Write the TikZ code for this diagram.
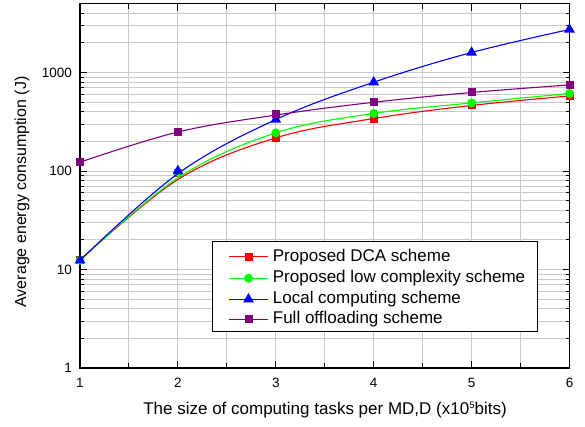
\documentclass[tikz,border=0pt]{standalone}
\usepackage{fontspec}
\setmainfont{Liberation Sans}
\usetikzlibrary{shapes.geometric}
\definecolor{cRed}{RGB}{255,0,0}
\definecolor{cGreen}{RGB}{0,255,0}
\definecolor{cBlue}{RGB}{0,0,255}
\definecolor{cPurple}{RGB}{128,0,128}
\definecolor{cGrid}{RGB}{200,200,200}
\newcommand\bigfont{\fontsize{17}{20}\selectfont}
\newcommand\ytitlefont{\fontsize{16}{19}\selectfont}
\newcommand\tickfont{\fontsize{13.5}{16}\selectfont}
\begin{document}
\begin{tikzpicture}[x=1pt,y=-1pt,
  declare function={X(\u)=80+97.9*(\u-1); Y(\v)=368-98.5*log10(\v);},
  gridline/.style={draw=cGrid, line width=1pt},
  frame/.style={draw=black, line width=1.3pt},
  tickline/.style={draw=black, line width=1pt},
  curve/.style={line width=1.1pt, smooth, tension=0.6},
  sqmark/.style={rectangle, minimum size=8pt, inner sep=0pt},
  cimark/.style={circle, minimum size=9pt, inner sep=0pt},
  trmark/.style={regular polygon, regular polygon sides=3, minimum size=12.5pt, inner sep=0pt},
  ticklabel/.style={font=\tickfont, inner sep=0pt},
  legtext/.style={font=\bigfont, anchor=west, inner sep=0pt}]
\useasboundingbox (0,0) rectangle (585,426);
% grid
\foreach \u in {1.5,2,2.5,3,3.5,4,4.5,5,5.5}
  \draw[gridline] ({X(\u)},{Y(5000)}) -- ({X(\u)},{Y(1)});
\foreach \v in {2,3,4,5,6,7,8,9,10,20,30,40,50,60,70,80,90,100,200,300,400,500,600,700,800,900,1000,2000,3000,4000}
  \draw[gridline] ({X(1)},{Y(\v)}) -- ({X(6)},{Y(\v)});
% ticks
\foreach \v in {10,100,1000} {
  \draw[tickline] ({X(1)},{Y(\v)}) -- ++(7,0);
  \draw[tickline] ({X(6)},{Y(\v)}) -- ++(-7,0);
}
\foreach \v in {2,3,4,5,6,7,8,9,20,30,40,50,60,70,80,90,200,300,400,500,600,700,800,900,2000,3000,4000} {
  \draw[tickline] ({X(1)},{Y(\v)}) -- ++(4,0);
  \draw[tickline] ({X(6)},{Y(\v)}) -- ++(-4,0);
}
\foreach \u in {2,3,4,5} {
  \draw[tickline] ({X(\u)},{Y(1)}) -- ++(0,-7);
  \draw[tickline] ({X(\u)},{Y(5000)}) -- ++(0,7);
}
\foreach \u in {1.5,2.5,3.5,4.5,5.5} {
  \draw[tickline] ({X(\u)},{Y(1)}) -- ++(0,-5);
  \draw[tickline] ({X(\u)},{Y(5000)}) -- ++(0,5);
}
% frame
\draw[frame] ({X(1)},{Y(5000)}) rectangle ({X(6)},{Y(1)});
% tick labels
\node[ticklabel, anchor=east] (yl1) at (72,{Y(1)}) {1};
\node[ticklabel, anchor=east] (yl10) at (72,{Y(10)}) {10};
\node[ticklabel, anchor=east] (yl100) at (72,{Y(100)}) {100};
\node[ticklabel, anchor=east] (yl1000) at (72,{Y(1000)}) {1000};
\foreach \u in {1,2,3,4,5,6}
  \node[ticklabel] (xl\u) at ({X(\u)},383) {\u};
% axis titles
\node[font=\ytitlefont, rotate=90] (ytitle) at (22,192) {Average energy consumption (J)};
\node[font=\bigfont] (xtitle) at (325,410) {The size of computing tasks per MD,D (x10\raisebox{5.5pt}{\fontsize{9.5}{10}\selectfont 5}bits)};
% red series
\draw[cRed, curve] plot coordinates {({X(1)},{Y(12.4)}) ({X(2)},{Y(82)}) ({X(3)},{Y(217)}) ({X(4)},{Y(341)}) ({X(5)},{Y(463)}) ({X(6)},{Y(578)})};
\foreach \u/\v in {1/12.4,2/96,3/217,4/341,5/463,6/578}
  \node[sqmark, fill=cRed] (r\u) at ({X(\u)},{Y(\v)}) {};
% green series
\draw[cGreen, curve] plot coordinates {({X(1)},{Y(12.4)}) ({X(2)},{Y(85)}) ({X(3)},{Y(244)}) ({X(4)},{Y(384)}) ({X(5)},{Y(491)}) ({X(6)},{Y(612)})};
\foreach \u/\v in {1/12.4,2/97,3/244,4/384,5/491,6/612}
  \node[cimark, fill=cGreen] (g\u) at ({X(\u)},{Y(\v)}) {};
% blue series
\draw[cBlue, curve] plot coordinates {({X(1)},{Y(12.4)}) ({X(2)},{Y(94)}) ({X(3)},{Y(333)}) ({X(4)},{Y(797)}) ({X(5)},{Y(1597)}) ({X(6)},{Y(2733)})};
\foreach \u/\v in {1/12.4,2/100,3/333,4/797,5/1597,6/2733}
  \node[trmark, fill=cBlue] (b\u) at ({X(\u)},{Y(\v)}) {};
% purple series
\draw[cPurple, curve] plot coordinates {({X(1)},{Y(123)}) ({X(2)},{Y(249)}) ({X(3)},{Y(370)}) ({X(4)},{Y(499)}) ({X(5)},{Y(627)}) ({X(6)},{Y(748)})};
\foreach \u/\v in {1/123,2/249,3/378,4/499,5/627,6/748}
  \node[sqmark, fill=cPurple] (p\u) at ({X(\u)},{Y(\v)}) {};
% legend
\node[draw=black, fill=white, line width=0.9pt, anchor=north west, minimum width=324.4pt, minimum height=90pt, inner sep=0pt] (legbox) at (212.3,240.7) {};
\draw[cRed, line width=1.1pt] (229,256.7) -- (268,256.7);
\node[sqmark, fill=cRed] (lr) at (248.5,256.7) {};
\node[legtext] (tr) at (272.7,256.7) {Proposed DCA scheme};
\draw[cGreen, line width=1.1pt] (229,278.3) -- (268,278.3);
\node[cimark, fill=cGreen] (lg) at (248.5,278.3) {};
\node[legtext] (tg) at (272.7,278.3) {Proposed low complexity scheme};
\draw[cBlue, line width=1.1pt] (229,299.3) -- (268,299.3);
\node[trmark, fill=cBlue] (lb) at (248.5,299.3) {};
\node[legtext] (tb) at (272.7,299.3) {Local computing scheme};
\draw[cPurple, line width=1.1pt] (229,319.3) -- (268,319.3);
\node[sqmark, fill=cPurple] (lp) at (248.5,319.3) {};
\node[legtext] (tp) at (272.7,319.3) {Full offloading scheme};
\end{tikzpicture}
\end{document}
